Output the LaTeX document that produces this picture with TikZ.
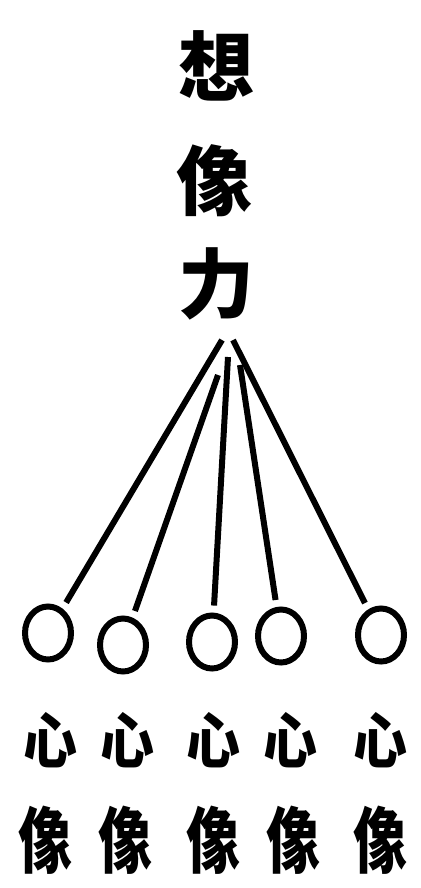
\documentclass[tikz,border=0pt]{standalone}
\usepackage{fontspec}
\newfontfamily\cjk{Noto Sans CJK SC}
\usetikzlibrary{shapes.geometric}
\begin{document}
\begin{tikzpicture}[x=1pt,y=-1pt,
  title/.style={font=\cjk\bfseries\fontsize{76}{76}\selectfont, inner sep=0pt},
  lab/.style={font=\cjk\bfseries\fontsize{60}{60}\selectfont, inner sep=0pt, xscale=0.9},
  labtall/.style={lab, yscale=1.2},
  ring/.style={draw, ellipse, line width=6pt, minimum width=46pt, minimum height=53pt, inner sep=0pt},
  link/.style={line width=6pt, shorten >=7pt}]
\useasboundingbox (0,0) rectangle (420,888);
\node[title] (t1) at (216,66) {想};
\node[title] (t2) at (214,181) {像};
\node[title] (t3) at (216,284) {力};
\coordinate (s1) at (222,340);
\coordinate (s2) at (218,375);
\coordinate (s3) at (228,357);
\coordinate (s4) at (240,365);
\coordinate (s5) at (233,340);
\node[ring] (c1) at (48,633) {};
\node[ring] (c2) at (123,645) {};
\node[ring] (c3) at (212,642) {};
\node[ring] (c4) at (281,636) {};
\node[ring] (c5) at (381,635) {};
\draw[link] (s1) -- (c1);
\draw[link] (s2) -- (c2);
\draw[link] (s3) -- (c3);
\draw[link] (s4) -- (c4);
\draw[link] (s5) -- (c5);
\node[lab] (h1) at (50,740) {心};
\node[lab] (h2) at (127,740) {心};
\node[lab] (h3) at (213,740) {心};
\node[lab] (h4) at (290,740) {心};
\node[lab] (h5) at (380,740) {心};
\node[labtall] (x1) at (45,840) {像};
\node[labtall] (x2) at (125,840) {像};
\node[labtall] (x3) at (213,840) {像};
\node[labtall] (x4) at (293,840) {像};
\node[labtall] (x5) at (380,840) {像};
\end{tikzpicture}
\end{document}
